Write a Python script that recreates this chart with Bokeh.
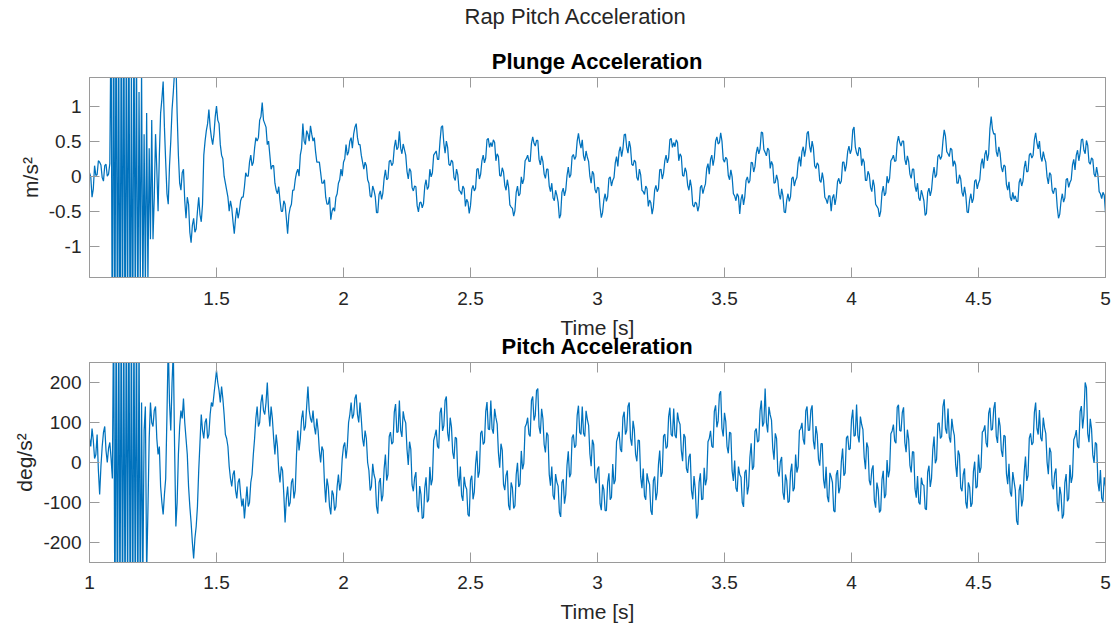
from bokeh.plotting import figure
from bokeh.models import Range1d, FixedTicker, LinearAxis, Title, CustomJSTickFormatter
from bokeh.layouts import column
from bokeh.embed import file_html
from bokeh.resources import INLINE

# ---------------- data ----------------
T_START = 1.0       # s, first sample
T_STEP = 0.005      # s, sample spacing

# Plunge acceleration [m/s^2], one row per 0.1 s (1.000 ... 5.000 s)
plunge_accel = [
    0.05, -0.01, -0.30, -0.18, 0.15, 0.01, 0.02, 0.22, 0.20, 0.16, -0.02, -0.07, 0.15, 0.17, 0.00, 0.03, 0.18, 2.4, -3.0, 2.8,
    -2.6, 3.2, -2.8, 2.1, -3.1, 2.5, -2.4, 2.9, -3.0, 2.2, -2.2, 2.7, -2.9, 1.6, -2.6, 2.4, -1.9, 1.9, -2.4, 1.2,
    -1.5, 1.5, -1.8, 0.6, -1.6, 0.9, -1.5, 0.4, -0.9, 0.8, -0.9, -0.3, 0.6, 0.1, -0.5, 0.3, 0.9, 1.1, 1.35, 0.7,
    0.2, -0.25, -0.4, 0.15, 0.5, 0.95, 1.2, 1.5, 1.7, 0.9, 0.3, -0.1, -0.2, 0.05, 0.1, -0.35, -0.6, -0.3, -0.4, -0.8,
    -0.95, -0.7, -0.6, -0.8, -0.75, -0.5, -0.3, -0.55, -0.65, -0.4, 0.3, 0.5, 0.65, 0.75, 0.95, 0.7, 0.55, 0.45, 0.6, 0.85,
    1.0, 0.8, 0.75, 0.45, 0.3, 0.25, 0.0, -0.1, -0.2, -0.3, -0.5, -0.35, -0.45, -0.65, -0.82, -0.6, -0.45, -0.6, -0.5, -0.35,
    -0.3, -0.3, -0.15, 0.05, 0.0, 0.0, 0.2, 0.3, 0.15, 0.2, 0.4, 0.55, 0.5, 0.55, 0.8, 0.85, 1.05, 0.8, 0.75, 0.7,
    0.45, 0.5, 0.3, 0.1, 0.15, 0.15, -0.1, -0.2, -0.25, -0.15, -0.35, -0.5, -0.5, -0.35, -0.4, -0.6, -0.82, -0.55, -0.45, -0.4,
    -0.2, -0.2, -0.05, 0.05, 0.1, 0.0, 0.3, 0.4, 0.75, 0.5, 0.45, 0.65, 0.6, 0.5, 0.72, 0.6, 0.5, 0.55, 0.35, 0.2,
    0.2, 0.2, 0.05, -0.1, -0.1, -0.05, -0.3, -0.4, -0.4, -0.3, -0.62, -0.5, -0.45, -0.5, -0.3, -0.25, -0.1, -0.05, 0.1, 0.0,
    0.2, 0.25, 0.45, 0.3, 0.35, 0.5, 0.55, 0.4, 0.6, 0.7, 0.75, 0.55, 0.45, 0.45, 0.3, 0.2, 0.1, 0.2, 0.15, -0.05,
    -0.1, -0.28, -0.3, -0.14, -0.2, -0.29, -0.52, -0.52, -0.26, -0.21, -0.33, -0.24, -0.03, 0.09, -0.05, -0.03, 0.21, 0.23, 0.15, 0.19,
    0.41, 0.52, 0.38, 0.41, 0.64, 0.40, 0.32, 0.46, 0.38, 0.30, 0.07, -0.04, 0.11, 0.07, -0.16, -0.21, -0.14, -0.15, -0.42, -0.51,
    -0.38, -0.37, -0.45, -0.39, -0.14, -0.05, -0.19, -0.15, 0.10, -0.01, 0.05, 0.30, 0.33, 0.36, 0.24, 0.24, 0.50, 0.70, 0.72, 0.47,
    0.33, 0.50, 0.41, 0.17, 0.15, 0.23, 0.20, -0.02, -0.06, 0.10, 0.02, -0.20, -0.22, -0.26, -0.14, -0.18, -0.43, -0.33, -0.37, -0.53,
    -0.42, -0.19, -0.13, -0.21, -0.17, 0.10, 0.11, -0.04, 0.03, 0.22, 0.30, 0.19, 0.26, 0.52, 0.54, 0.41, 0.48, 0.42, 0.52, 0.48,
    0.22, 0.32, 0.28, 0.01, 0.00, 0.12, 0.06, -0.13, -0.20, -0.05, -0.16, -0.41, -0.44, -0.46, -0.57, -0.49, -0.23, -0.14, -0.28, -0.25,
    -0.01, -0.11, -0.04, 0.22, 0.25, 0.30, 0.21, 0.21, 0.47, 0.56, 0.47, 0.43, 0.51, 0.51, 0.24, 0.16, 0.29, 0.21, 0.03, -0.03,
    0.10, 0.10, -0.14, -0.22, -0.10, -0.31, -0.35, -0.20, -0.27, -0.37, -0.60, -0.55, -0.23, -0.17, -0.28, -0.20, 0.01, 0.13, -0.02, 0.02,
    0.28, 0.31, 0.24, 0.28, 0.50, 0.61, 0.48, 0.40, 0.52, 0.29, 0.22, 0.36, 0.27, 0.21, 0.00, -0.10, 0.07, 0.03, -0.19, -0.24,
    -0.16, -0.17, -0.44, -0.59, -0.52, -0.34, -0.25, -0.36, -0.29, -0.03, -0.01, -0.14, -0.06, -0.02, 0.19, 0.28, 0.14, 0.35, 0.42, 0.28,
    0.39, 0.59, 0.60, 0.41, 0.33, 0.50, 0.41, 0.17, 0.15, 0.23, 0.20, -0.02, -0.06, 0.10, 0.02, -0.20, -0.22, -0.26, -0.14, -0.18,
    -0.43, -0.34, -0.38, -0.54, -0.44, -0.20, -0.13, -0.22, -0.18, 0.09, 0.10, -0.04, 0.04, 0.22, 0.30, 0.19, 0.26, 0.52, 0.54, 0.41,
    0.48, 0.42, 0.52, 0.48, 0.22, 0.32, 0.28, 0.01, 0.00, 0.12, 0.06, -0.13, -0.20, -0.05, -0.16, -0.41, -0.44, -0.37, -0.39, -0.50,
    -0.42, -0.16, -0.13, -0.25, -0.17, -0.11, 0.11, 0.18, 0.03, 0.24, 0.30, 0.15, 0.26, 0.50, 0.56, 0.46, 0.48, 0.62, 0.50, 0.24,
    0.20, 0.27, 0.24, 0.01, -0.05, 0.09, -0.01, -0.25, -0.28, -0.35, -0.25, -0.29, -0.54, -0.33, -0.26, -0.41, -0.29, -0.06, -0.01, -0.10,
    -0.06, 0.20, 0.19, 0.06, 0.14, 0.33, 0.42, 0.32, 0.39, 0.63, 0.62, 0.38, 0.34, 0.29, 0.40, 0.37, 0.11, 0.21, 0.16, -0.10,
    -0.09, 0.02, -0.06, -0.26, -0.33, -0.18, -0.28, -0.51, -0.52, -0.34, -0.25, -0.36, -0.29, -0.03, -0.01, -0.14, -0.06, -0.02, 0.19, 0.28,
    0.14, 0.35, 0.42, 0.28, 0.39, 0.61, 0.64, 0.43, 0.34, 0.50, 0.40, 0.15, 0.11, 0.19, 0.16, -0.06, -0.09, 0.05, -0.06, -0.30,
    -0.33, -0.39, -0.28, -0.28, -0.50, -0.31, -0.26, -0.41, -0.30, -0.08, -0.03, -0.11, -0.07, 0.20, 0.20, 0.07, 0.16, 0.35, 0.43, 0.32,
    0.38, 0.66, 0.70, 0.42, 0.33, 0.29, 0.41, 0.39, 0.15, 0.25, 0.20, -0.06, -0.06, 0.07, 0.02, -0.16, -0.22, -0.05, -0.14, -0.40,
    -0.43, -0.46, -0.58, -0.50, -0.24, -0.14, -0.28, -0.24, 0.00, -0.10, -0.03, 0.22, 0.25, 0.30, 0.21, 0.22, 0.48, 0.57, 0.48, 0.43,
    0.50, 0.50, 0.24, 0.16, 0.29, 0.21, 0.03, -0.03, 0.10, 0.10, -0.14, -0.22, -0.10, -0.31, -0.35, -0.20, -0.27, -0.35, -0.56, -0.53,
    -0.23, -0.17, -0.28, -0.20, 0.01, 0.13, -0.02, 0.02, 0.28, 0.31, 0.24, 0.28, 0.50, 0.66, 0.57, 0.35, 0.32, 0.28, 0.40, 0.38,
    0.14, 0.22, 0.16, -0.10, -0.10, 0.02, -0.04, -0.23, -0.29, -0.15, -0.27, -0.51, -0.52, -0.34, -0.25, -0.38, -0.32, -0.07, -0.05, -0.18,
    -0.10, -0.05, 0.17, 0.25, 0.11, 0.31, 0.37, 0.22, 0.32, 0.68, 0.85, 0.67, 0.60, 0.61, 0.35, 0.28, 0.42, 0.33, 0.13, 0.06,
    0.16, 0.14, -0.12, -0.20, -0.08, -0.30, -0.35, -0.23, -0.33, -0.28, -0.36, -0.36, -0.09, -0.03, -0.14, -0.07, 0.12, 0.22, 0.06, 0.07,
    0.30, 0.33, 0.26, 0.30, 0.52, 0.62, 0.48, 0.39, 0.50, 0.28, 0.21, 0.35, 0.26, 0.20, -0.01, -0.11, 0.05, 0.02, -0.20, -0.25,
    -0.17, -0.18, -0.44, -0.60, -0.54, -0.35, -0.25, -0.37, -0.31, -0.05, -0.03, -0.16, -0.09, -0.05, 0.16, 0.24, 0.09, 0.30, 0.37, 0.22,
    0.33, 0.52, 0.53, 0.37, 0.32, 0.51, 0.44, 0.20, 0.17, 0.26, 0.24, 0.03, -0.01, 0.13, 0.02, -0.22, -0.25, -0.32, -0.23, -0.27,
    -0.52,
]

# Pitch acceleration [deg/s^2], one row per 0.1 s (1.000 ... 5.000 s)
pitch_accel = [
    60, 40, 85, 55, 10, 20, 70, -20, -80, -10, 40, 75, 90, 30, 0, 35, 50, 10, -40, 400,
    -420, 380, -450, 410, -390, 440, -430, 360, -400, 420, -380, 450, -410, 390, -440, 370, -360, 400, -420, 330,
    -380, 150, -300, 80, 140, -280, -120, 60, 150, 100, 90, 130, 140, 60, 20, 40, -60, -100, -130, -80,
    -40, 120, 300, 150, 80, 200, 280, 40, -160, -100, 20, 90, 130, 110, 160, 100, 60, 20, -60, -110,
    -150, -200, -240, -190, -160, -110, -20, 50, 120, 80, 60, 100, 110, 60, 70, 120, 150, 140, 170, 200,
    230, 200, 180, 150, 190, 160, 120, 70, 60, 40, -10, -40, -60, -30, -20, -70, -90, -50, -40, -80,
    -110, -90, -140, -100, -60, -110, -100, -50, -30, 20, 60, 110, 140, 90, 100, 150, 170, 130, 120, 150,
    200, 130, 90, 140, 110, 60, 20, 70, 40, -20, -50, -10, -20, -80, -150, -90, -60, -110, -100, -50,
    -40, -90, -70, 20, 80, 30, 60, 110, 130, 80, 90, 140, 190, 130, 110, 100, 130, 90, 70, 110,
    80, 30, 0, 40, 30, -50, -100, -40, -60, -110, -130, -70, -80, -120, -110, -60, -30, -70, -50, 10,
    40, 50, 10, 40, 100, 120, 150, 110, 120, 160, 170, 120, 100, 150, 110, 60, 40, 80, 60, 0,
    -20, -70, -60, -3, -30, -42, -110, -128, -50, -39, -97, -82, -16, 20, -45, -30, 65, 76, 46, 51,
    126, 146, 75, 77, 155, 80, 64, 128, 108, 99, 33, -6, 52, 33, -56, -72, -38, -24, -109, -124,
    -59, -80, -140, -137, -64, -37, -99, -93, -11, -57, -42, 55, 67, 82, 41, 35, 124, 137, 79, 92,
    155, 165, 74, 53, 112, 89, 25, 9, 63, 60, -33, -60, -10, -83, -96, -36, -59, -67, -130, -135,
    -44, -33, -92, -74, -5, 29, -38, -23, 73, 79, 45, 51, 127, 151, 84, 82, 155, 84, 72, 134,
    112, 96, 24, -13, 47, 31, -55, -69, -32, -20, -107, -119, -50, -63, -115, -108, -30, -1, -61, -54,
    29, -17, -2, 89, 96, 112, 71, 65, 155, 165, 105, 118, 180, 185, 89, 72, 134, 110, 45, 25,
    75, 68, -30, -58, -10, -82, -93, -29, -49, -59, -125, -136, -50, -42, -103, -80, -7, 28, -37, -28,
    62, 70, 37, 43, 118, 142, 75, 70, 140, 73, 65, 129, 108, 93, 22, -9, 57, 45, -37, -52,
    -17, -10, -103, -119, -55, -68, -120, -120, -50, -27, -93, -87, -4, -54, -44, 52, 64, 77, 34, 26,
    113, 127, 70, 80, 140, 150, 60, 42, 104, 82, 20, 3, 56, 55, -36, -64, -15, -84, -93, -27,
    -45, -55, -120, -131, -45, -35, -94, -75, -5, 30, -36, -25, 66, 71, 35, 40, 114, 137, 70, 65,
    135, 68, 61, 125, 104, 95, 30, 3, 71, 63, -15, -26, 14, 22, -70, -92, -34, -67, -140, -130,
    -50, -27, -93, -91, -13, -57, -41, 52, 60, 79, 41, 37, 128, 143, 88, 104, 170, 178, 85, 65,
    124, 102, 40, 23, 76, 73, -21, -46, 5, -64, -73, -10, -30, -37, -100, -111, -25, -18, -80, -59,
    13, 48, -18, -10, 78, 85, 51, 55, 129, 155, 90, 100, 185, 100, 75, 139, 119, 106, 36, 7,
    73, 60, -23, -35, 3, 14, -75, -93, -30, -45, -100, -97, -24, -3, -72, -64, 20, -25, -10, 80,
    85, 99, 57, 45, 129, 140, 80, 81, 131, 143, 54, 33, 91, 70, 8, -8, 47, 47, -43, -65,
    -11, -85, -99, -26, -36, -50, -120, -124, -31, -19, -77, -63, 2, 35, -33, -26, 61, 67, 32, 35,
    107, 132, 66, 68, 145, 68, 50, 115, 95, 82, 13, -17, 50, 38, -45, -57, -18, -7, -95, -113,
    -50, -68, -125, -119, -43, -21, -89, -80, 6, -37, -20, 72, 79, 95, 54, 48, 138, 144, 80, 78,
    125, 138, 50, 26, 82, 58, -7, -25, 27, 26, -66, -88, -34, -100, -105, -38, -55, -57, -115, -118,
    -24, -8, -61, -40, 32, 65, -2, 8, 97, 99, 60, 65, 140, 158, 85, 72, 135, 63, 50, 109,
    83, 67, -5, -36, 30, 19, -63, -72, -30, -15, -100, -115, -50, -61, -111, -102, -23, 2, -64, -60,
    20, -26, -12, 76, 80, 93, 49, 38, 123, 137, 81, 83, 135, 151, 66, 49, 112, 91, 30, 14,
    68, 65, -28, -54, -3, -74, -85, -24, -47, -69, -146, -156, -70, -55, -110, -92, -24, 15, -46, -33,
    61, 73, 44, 50, 125, 150, 85, 70, 131, 62, 53, 112, 87, 72, 1, -29, 37, 26, -56, -67,
    -27, -15, -103, -122, -61, -81, -140, -130, -50, -29, -97, -90, -6, -51, -35, 57, 65, 81, 41, 36,
    127, 141, 85, 118, 200, 187, 73, 51, 109, 84, 19, -1, 50, 46, -49, -72, -19, -89, -98, -37,
    -60,
]

time_s = [round(T_START + i * T_STEP, 3) for i in range(len(plunge_accel))]

x_ticks_top = [1.5, 2, 2.5, 3, 3.5, 4, 4.5, 5]
x_ticks_bottom = [1, 1.5, 2, 2.5, 3, 3.5, 4, 4.5, 5]
plunge_ticks = [-1, -0.5, 0, 0.5, 1]
pitch_ticks = [-200, -100, 0, 100, 200]

main_title = "Rap Pitch Acceleration"
plunge_title = "Plunge Acceleration"
pitch_title = "Pitch Acceleration"
x_label = "Time [s]"
plunge_unit = "m/s\u00b2"
pitch_unit = "deg/s\u00b2"

# ---------------- styling ----------------
FONT = "Liberation Sans"
TXT = "#262626"
AXC = "#9a9a9a"
LINE = "#0072BD"
W = 1117
H1 = 360
H2 = 628 - H1


def style_axis(ax, ticks, show_labels=True):
    ax.ticker = FixedTicker(ticks=ticks)
    ax.axis_line_color = AXC
    ax.major_tick_line_color = AXC
    ax.major_tick_in = 10
    ax.major_tick_out = 0
    ax.minor_tick_in = 0
    ax.minor_tick_out = 0
    ax.minor_tick_line_color = None
    if show_labels:
        ax.formatter = CustomJSTickFormatter(code="return String(tick);")
        ax.major_label_text_font = FONT
        ax.major_label_text_font_size = "19px"
        ax.major_label_text_color = TXT
        ax.axis_label_text_font = FONT
        ax.axis_label_text_font_size = "21px"
        ax.axis_label_text_font_style = "normal"
        ax.axis_label_text_color = TXT
    else:
        ax.formatter = CustomJSTickFormatter(code="return '';")
        ax.major_label_text_font_size = "0px"
        ax.major_label_standoff = 0


def make_fig(height, top, bottom, yrange, xticks, yticks, ylabel, x_values, y_values,
             tick_standoff, label_standoff):
    p = figure(width=W, height=height, x_range=Range1d(1, 5), y_range=Range1d(*yrange),
               output_backend="svg", toolbar_location=None, title=None,
               min_border_left=89, min_border_right=12,
               min_border_top=top, min_border_bottom=bottom)
    p.grid.visible = False
    p.outline_line_color = AXC
    p.background_fill_color = "white"
    p.border_fill_color = "white"

    style_axis(p.xaxis[0], xticks)
    p.xaxis[0].axis_label = x_label
    p.xaxis[0].major_label_standoff = tick_standoff
    p.xaxis[0].axis_label_standoff = label_standoff

    style_axis(p.yaxis[0], yticks)
    p.yaxis[0].axis_label = ylabel
    p.yaxis[0].major_label_standoff = 8
    p.yaxis[0].axis_label_standoff = 4

    ax_r = LinearAxis()
    style_axis(ax_r, yticks, show_labels=False)
    p.add_layout(ax_r, "right")
    ax_t = LinearAxis()
    style_axis(ax_t, xticks, show_labels=False)
    p.add_layout(ax_t, "above")

    p.line(x_values, y_values, line_color=LINE, line_width=1.25)
    return p


p1 = make_fig(H1, 77, H1 - 277, (-1.445, 1.408), x_ticks_top, plunge_ticks,
              plunge_unit, time_s, plunge_accel, 14, 8)
p1.add_layout(Title(text=plunge_title, align="center", text_font=FONT, text_font_size="22px",
                    text_font_style="bold", text_color="#000000", standoff=7), "above")
# invisible spacer between the panel title and the overall title
gap = LinearAxis(ticker=FixedTicker(ticks=[3]), major_tick_out=15, major_tick_in=0,
                 major_tick_line_color=None, minor_tick_line_color=None, axis_line_color=None,
                 major_label_text_font_size="0px", major_label_standoff=0,
                 formatter=CustomJSTickFormatter(code="return '';"))
p1.add_layout(gap, "above")
# overall title: centred on the whole figure, not on the axes frame
p1.add_layout(Title(text=main_title, align="left", text_font=FONT, text_font_size="22px",
                    text_font_style="normal", text_color=TXT, standoff=0, offset=375), "above")
# title of the lower panel sits directly under the upper panel's axis label
p1.add_layout(Title(text=pitch_title, align="center", text_font=FONT, text_font_size="22px",
                    text_font_style="bold", text_color="#000000", standoff=-20), "below")

p2 = make_fig(H2, 362 - H1, 66, (-250, 250), x_ticks_bottom, pitch_ticks,
              pitch_unit, time_s, pitch_accel, 13, 8)

layout = column(p1, p2, spacing=0)
open("out.html", "w").write(file_html(layout, INLINE))
